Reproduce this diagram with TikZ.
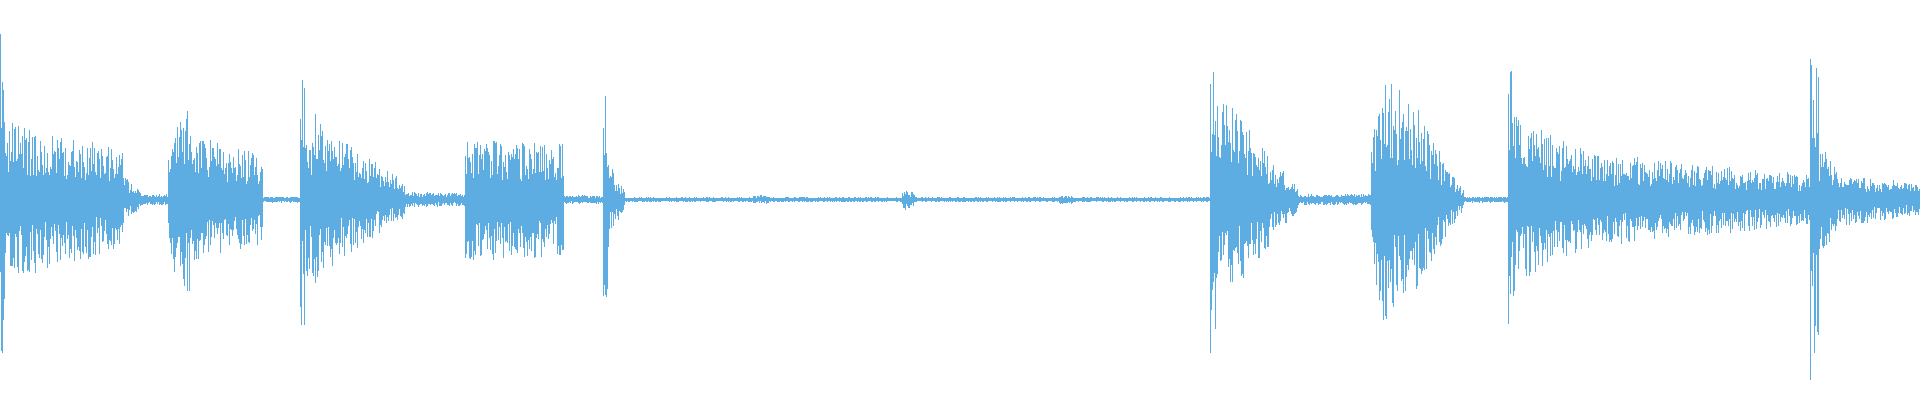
\documentclass[tikz,border=0pt]{standalone}
\definecolor{wave}{HTML}{5DADE2}
\begin{document}
\begin{tikzpicture}[x=1.2245pt,y=1.2245pt,wv/.style={draw=wave,line width=0.45pt}]
\pgfmathsetseed{7}
\useasboundingbox (0,0) rectangle (1568,327);
\foreach \xa/\xe/\aa/\ab in {
0/4/148/110, 4/20/65/60, 20/100/62/40, 100/115/20/6, 115/137/4/4,
137/142/50/75, 142/155/80/75, 155/215/55/35, 215/245/2/2,
245/249/118/100, 249/262/60/75, 262/330/60/15, 330/380/6/5,
380/460/52/45, 460/493/3/3, 493/497/100/70, 497/510/30/8,
510/615/1.5/1.5, 615/628/3/3, 628/737/1.5/1.5, 737/747/9/5, 747/865/1.5/1.5, 865/876/3/3, 876/988/1.5/1.5,
988/993/128/110, 993/1010/85/75, 1010/1060/70/10, 1060/1120/4/4,
1120/1130/60/100, 1130/1160/100/75, 1160/1195/65/8, 1195/1232/2/2,
1232/1237/122/90, 1237/1260/75/58, 1260/1300/55/38, 1300/1478/38/20,
1478/1485/153/120, 1485/1500/45/28, 1500/1568/22/12}{
 \pgfmathsetmacro\xs{\xa+0.7}
 \foreach \x in {\xa,\xs,...,\xe}{
  \pgfmathsetmacro\amp{\aa+(\ab-\aa)*(\x-\xa)/(\xe-\xa)}
  \pgfmathsetmacro\u{\amp*(0.3+0.7*rnd)+0.5}
  \pgfmathsetmacro\d{\amp*(0.3+0.7*rnd)+0.5}
  \draw[wv] (\x,164+\u) -- (\x,164-\d);
 }}
\end{tikzpicture}
\end{document}
